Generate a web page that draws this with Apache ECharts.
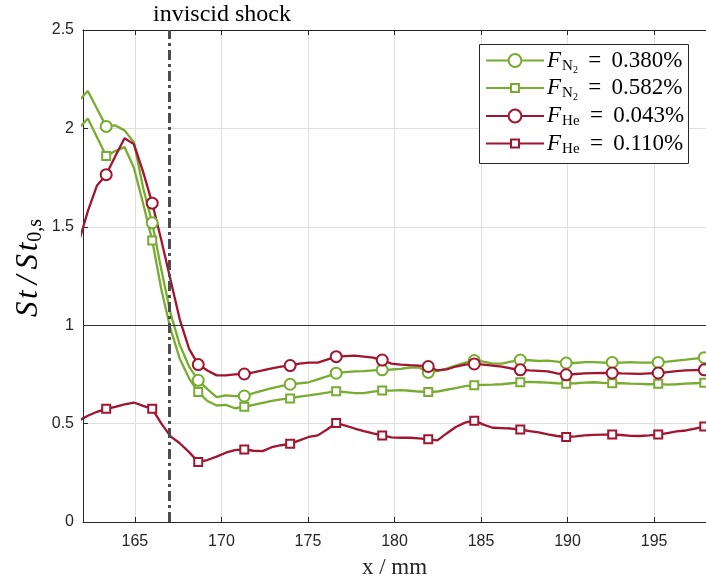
<!DOCTYPE html>
<html>
<head>
<meta charset="utf-8">
<script src="https://cdn.jsdelivr.net/npm/echarts@6/dist/echarts.min.js"></script>
<style>
  html, body { margin: 0; padding: 0; background: #ffffff; }
  #chart { width: 706px; height: 584px; }
</style>
</head>
<body>
<div id="chart"></div>
<script>
// Streamwise station (mm) of each sample
const xPos = [161.75, 162.28, 162.81, 163.34, 163.87, 164.40, 164.94, 165.47, 166.00, 166.53,
  167.06, 167.59, 168.13, 168.66, 169.19, 169.72, 170.25, 170.78, 171.32, 171.85,
  172.38, 172.91, 173.44, 173.97, 174.51, 175.04, 175.57, 176.10, 176.63, 177.16,
  177.70, 178.23, 178.76, 179.29, 179.82, 180.35, 180.89, 181.42, 181.95, 182.48,
  183.01, 183.54, 184.08, 184.61, 185.14, 185.67, 186.20, 186.73, 187.27, 187.80,
  188.33, 188.86, 189.39, 189.92, 190.46, 190.99, 191.52, 192.05, 192.58, 193.11,
  193.65, 194.18, 194.71, 195.24, 195.77, 196.30, 196.84, 197.37, 197.90];

// Normalised Stanton number St/St_0,s
const stN2Low = [2.14, 2.19, 2.10, 2.01, 2.015, 1.99, 1.93, 1.70, 1.52, 1.28,
  1.06, 0.90, 0.79, 0.72, 0.675, 0.635, 0.643, 0.64, 0.64, 0.655,
  0.668, 0.68, 0.69, 0.70, 0.705, 0.71, 0.725, 0.74, 0.756, 0.762,
  0.765, 0.767, 0.77, 0.773, 0.775, 0.778, 0.785, 0.785, 0.76, 0.768,
  0.78, 0.795, 0.81, 0.82, 0.815, 0.805, 0.805, 0.815, 0.823, 0.822,
  0.818, 0.82, 0.815, 0.808, 0.808, 0.812, 0.812, 0.81, 0.811, 0.81,
  0.812, 0.81, 0.81, 0.811, 0.815, 0.82, 0.825, 0.83, 0.835];

const stN2High = [2.0, 2.05, 1.955, 1.86, 1.885, 1.905, 1.80, 1.62, 1.43, 1.18,
  0.98, 0.83, 0.73, 0.66, 0.615, 0.592, 0.595, 0.578, 0.585, 0.595,
  0.605, 0.615, 0.623, 0.628, 0.637, 0.643, 0.65, 0.657, 0.665, 0.66,
  0.655, 0.655, 0.662, 0.668, 0.668, 0.67, 0.667, 0.663, 0.66, 0.663,
  0.672, 0.68, 0.69, 0.695, 0.697, 0.698, 0.70, 0.705, 0.71, 0.712,
  0.71, 0.708, 0.705, 0.703, 0.705, 0.708, 0.71, 0.707, 0.705, 0.705,
  0.703, 0.702, 0.70, 0.702, 0.698, 0.70, 0.703, 0.705, 0.707];

const stHeLow = [1.42, 1.58, 1.71, 1.765, 1.86, 1.95, 1.92, 1.78, 1.62, 1.43,
  1.23, 1.03, 0.88, 0.80, 0.77, 0.745, 0.745, 0.75, 0.752, 0.76,
  0.77, 0.78, 0.79, 0.795, 0.805, 0.81, 0.81, 0.825, 0.84, 0.843,
  0.845, 0.84, 0.835, 0.823, 0.805, 0.80, 0.797, 0.795, 0.79, 0.77,
  0.775, 0.79, 0.80, 0.803, 0.80, 0.795, 0.79, 0.78, 0.773, 0.77,
  0.768, 0.765, 0.755, 0.748, 0.752, 0.755, 0.756, 0.757, 0.757, 0.755,
  0.754, 0.753, 0.755, 0.757, 0.762, 0.767, 0.77, 0.772, 0.773];

const stHeHigh = [0.515, 0.54, 0.56, 0.575, 0.585, 0.598, 0.607, 0.59, 0.575, 0.50,
  0.435, 0.40, 0.355, 0.305, 0.315, 0.332, 0.352, 0.365, 0.369, 0.362,
  0.36, 0.38, 0.39, 0.397, 0.415, 0.432, 0.44, 0.47, 0.503, 0.49,
  0.475, 0.462, 0.45, 0.44, 0.43, 0.428, 0.428, 0.425, 0.42, 0.415,
  0.45, 0.483, 0.505, 0.515, 0.495, 0.479, 0.477, 0.475, 0.47, 0.462,
  0.455, 0.445, 0.437, 0.432, 0.435, 0.44, 0.443, 0.444, 0.444, 0.442,
  0.438, 0.437, 0.44, 0.444, 0.452, 0.46, 0.465, 0.475, 0.485];

const xTicks = [165, 170, 175, 180, 185, 190, 195];
const shockX = 167;
const unityLevel = 1;

const seriesNames = ['N2 0.380', 'N2 0.582', 'He 0.043', 'He 0.110'];
const gasLabels = [['N', '2'], ['N', '2'], ['He', ''], ['He', '']];
const fractionLabels = ['0.380%', '0.582%', '0.043%', '0.110%'];

const GREEN = '#77AC30';
const RED = '#A2142F';
const AXIS = '#262626';
const SERIF = 'Liberation Serif';
const SANS = 'Liberation Sans';

const chart = echarts.init(document.getElementById('chart'), null, { renderer: 'canvas' });

// every fifth sample carries a marker
function buildData(vals, marker) {
  return vals.map((v, i) => ({ value: [xPos[i], v], symbol: (i % 5 === 3) ? marker : 'none' }));
}

function curve(name, vals, color, marker, size) {
  return {
    name: name,
    type: 'line',
    data: buildData(vals, marker),
    symbol: marker,
    symbolSize: size,
    showSymbol: true,
    showAllSymbol: true,
    lineStyle: { color: color, width: 2.3 },
    itemStyle: { color: color, borderWidth: 2.2 },
    emphasis: { disabled: true },
    animation: false,
    z: 3
  };
}

const legendRich = {
  f: { fontFamily: SERIF, fontStyle: 'italic', fontSize: 23, color: '#000' },
  s: { fontFamily: SERIF, fontSize: 15, color: '#000', padding: [11, 0, 0, 1] },
  s2: { fontFamily: SERIF, fontSize: 10, color: '#000', padding: [19, 0, 0, 0] },
  t: { fontFamily: SERIF, fontSize: 23, color: '#000' }
};

const rowCenters = [62, 89.5, 117.5, 145];
const legends = seriesNames.map((name, i) => {
  const isSquare = (i % 2 === 1);
  const ih = isSquare ? 10 : 16;
  return {
    data: [name],
    left: 485,
    top: rowCenters[i] - 13,
    orient: 'horizontal',
    padding: 0,
    itemWidth: 58,
    itemHeight: ih,
    selectedMode: false,
    formatter: function () {
      const g = gasLabels[i];
      return '{f|F}{s|' + g[0] + '}' + (g[1] ? '{s2|' + g[1] + '}' : '') + '{t|\u2009 = \u2009' + fractionLabels[i] + '}';
    },
    textStyle: { rich: legendRich, padding: [0, 0, 0, -2] },
    z: 10
  };
});

const option = {
  backgroundColor: '#ffffff',
  animation: false,
  grid: { left: 83, top: 30, right: -2, bottom: 56, containLabel: false },
  legend: legends,
  xAxis: [{
    type: 'value', min: 162, max: 198, position: 'bottom',
    axisLine: { show: true, onZero: false, lineStyle: { color: AXIS, width: 1 } },
    axisTick: { show: true, inside: true, length: 5, customValues: xTicks, lineStyle: { color: AXIS } },
    axisLabel: { customValues: xTicks, fontFamily: SANS, fontSize: 16, color: AXIS, margin: 12 },
    splitLine: { show: true, lineStyle: { color: '#dfdfdf', width: 1 } },
    name: 'x / mm', nameLocation: 'middle', nameGap: 34,
    nameTextStyle: { fontFamily: SERIF, fontSize: 23, color: AXIS }
  }, {
    type: 'value', min: 162, max: 198, position: 'top',
    axisLine: { show: true, onZero: false, lineStyle: { color: AXIS, width: 1 } },
    axisTick: { show: true, inside: true, length: 5, customValues: xTicks, lineStyle: { color: AXIS } },
    axisLabel: { show: false },
    splitLine: { show: false }
  }],
  yAxis: [{
    type: 'value', min: 0, max: 2.5, interval: 0.5,
    axisLine: { show: true, onZero: false, lineStyle: { color: AXIS, width: 1 } },
    axisTick: { show: true, inside: true, length: 5, lineStyle: { color: AXIS } },
    axisLabel: { fontFamily: SANS, fontSize: 16, color: AXIS, margin: 9 },
    splitLine: { show: true, lineStyle: { color: '#dfdfdf', width: 1 } }
  }],
  graphic: [
    {
      type: 'rect', z: 8,
      shape: { x: 479.5, y: 44.5, width: 209, height: 119 },
      style: { fill: '#ffffff', stroke: AXIS, lineWidth: 1 }
    },
    {
      type: 'text', left: 153, top: 3, z: 8,
      style: { text: 'inviscid shock', fontFamily: SERIF, fontSize: 24, fill: '#000' }
    },
    {
      type: 'text', z: 8, x: 29, y: 268, rotation: Math.PI / 2,
      style: {
        text: '{i|S\u200At\u2009/\u2009S\u200At}{s|0,s}',
        align: 'center', verticalAlign: 'middle',
        rich: {
          i: { fontFamily: SERIF, fontStyle: 'italic', fontSize: 31, fill: '#000' },
          s: { fontFamily: SERIF, fontSize: 20, fill: '#000', padding: [13, 0, 0, 1] }
        }
      }
    }
  ],
  series: [
    {
      name: 'reference', type: 'line', data: [], silent: true, z: 1,
      markLine: {
        silent: true, symbol: 'none', animation: false,
        label: { show: false },
        lineStyle: { color: '#333333', width: 1, type: 'solid' },
        data: [{ yAxis: unityLevel }]
      }
    },
    curve(seriesNames[0], stN2Low, GREEN, 'emptyCircle', 11),
    curve(seriesNames[1], stN2High, GREEN, 'emptyRect', 8),
    curve(seriesNames[2], stHeLow, RED, 'emptyCircle', 11),
    curve(seriesNames[3], stHeHigh, RED, 'emptyRect', 8),
    {
      name: 'shock', type: 'line', data: [], silent: true, z: 5,
      markLine: {
        silent: true, symbol: 'none', animation: false,
        label: { show: false },
        lineStyle: { color: '#4d4d4d', width: 3, type: [10, 4, 3, 4] },
        data: [{ xAxis: shockX }]
      }
    }
  ]
};

chart.setOption(option);
</script>
</body>
</html>
